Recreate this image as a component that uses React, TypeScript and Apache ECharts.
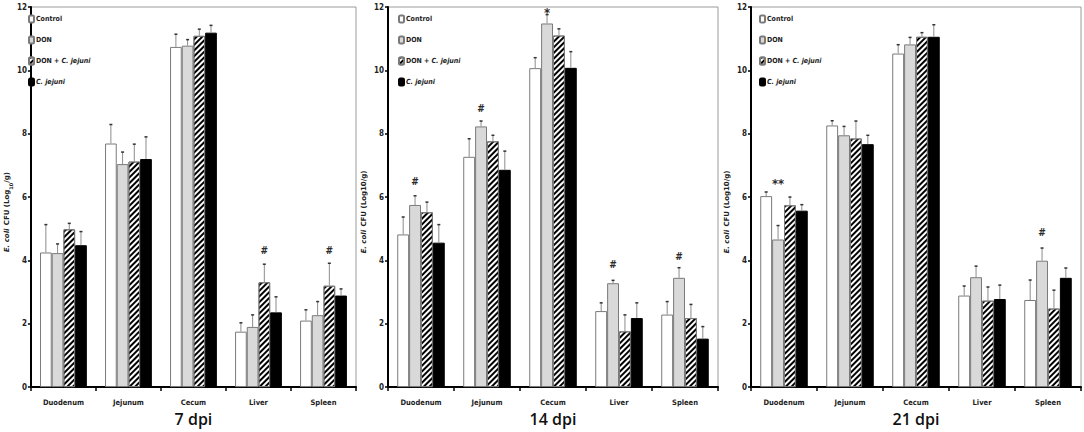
import React, { useEffect, useRef } from "react";
import * as echarts from "echarts";

const CATEGORIES = ["Duodenum", "Jejunum", "Cecum", "Liver", "Spleen"];
const GROUPS = ["Control", "DON", "DON + C. jejuni", "C. jejuni"];
const PANEL_TITLES = ["7 dpi", "14 dpi", "21 dpi"];
const Y_MIN = 0;
const Y_MAX = 12;
const Y_INTERVAL = 2;

// 7 dpi
const D7_CONTROL = [4.25, 7.69, 10.74, 1.75, 2.1];
const D7_DON = [4.23, 7.04, 10.78, 1.9, 2.27];
const D7_DON_CJ = [4.98, 7.12, 11.09, 3.31, 3.2];
const D7_CJ = [4.48, 7.2, 11.19, 2.36, 2.89];
const D7_CONTROL_ERR = [0.88, 0.6, 0.4, 0.28, 0.34];
const D7_DON_ERR = [0.29, 0.38, 0.19, 0.38, 0.43];
const D7_DON_CJ_ERR = [0.19, 0.55, 0.21, 0.57, 0.71];
const D7_CJ_ERR = [0.43, 0.7, 0.23, 0.49, 0.21];

// 14 dpi
const D14_CONTROL = [4.82, 7.27, 10.07, 2.4, 2.29];
const D14_DON = [5.75, 8.23, 11.48, 3.28, 3.45];
const D14_DON_CJ = [5.52, 7.76, 11.1, 1.76, 2.18];
const D14_CJ = [4.56, 6.86, 10.08, 2.18, 1.53];
const D14_CONTROL_ERR = [0.55, 0.57, 0.33, 0.26, 0.41];
const D14_DON_ERR = [0.29, 0.17, 0.28, 0.09, 0.32];
const D14_DON_CJ_ERR = [0.32, 0.19, 0.21, 0.52, 0.43];
const D14_CJ_ERR = [0.57, 0.59, 0.51, 0.48, 0.38];

// 21 dpi
const D21_CONTROL = [6.03, 8.26, 10.53, 2.89, 2.75];
const D21_DON = [4.66, 7.95, 10.82, 3.47, 3.99];
const D21_DON_CJ = [5.74, 7.85, 11.06, 2.73, 2.48];
const D21_CJ = [5.57, 7.67, 11.06, 2.78, 3.45];
const D21_CONTROL_ERR = [0.13, 0.15, 0.28, 0.3, 0.63];
const D21_DON_ERR = [0.44, 0.28, 0.22, 0.35, 0.4];
const D21_DON_CJ_ERR = [0.26, 0.55, 0.13, 0.43, 0.58];
const D21_CJ_ERR = [0.19, 0.28, 0.38, 0.44, 0.31];

// significance marks: [category index, group index, value level, text]
const ANNOT_7: [number, number, number, string][] = [
  [3, 2, 4.31, "#"],
  [4, 2, 4.31, "#"],
];
const ANNOT_14: [number, number, number, string][] = [
  [0, 1, 6.5, "#"],
  [1, 1, 8.79, "#"],
  [2, 1, 11.83, "*"],
  [3, 1, 3.88, "#"],
  [4, 1, 4.11, "#"],
];
const ANNOT_21: [number, number, number, string][] = [
  [0, 1, 6.44, "**"],
  [4, 1, 4.87, "#"],
];

const MEANS = [
  [D7_CONTROL, D7_DON, D7_DON_CJ, D7_CJ],
  [D14_CONTROL, D14_DON, D14_DON_CJ, D14_CJ],
  [D21_CONTROL, D21_DON, D21_DON_CJ, D21_CJ],
];
const ERRS = [
  [D7_CONTROL_ERR, D7_DON_ERR, D7_DON_CJ_ERR, D7_CJ_ERR],
  [D14_CONTROL_ERR, D14_DON_ERR, D14_DON_CJ_ERR, D14_CJ_ERR],
  [D21_CONTROL_ERR, D21_DON_ERR, D21_DON_CJ_ERR, D21_CJ_ERR],
];
const ANNOTS = [ANNOT_7, ANNOT_14, ANNOT_21];

const NARROW = "'Liberation Sans Narrow', 'DejaVu Sans Condensed', sans-serif";
const GRIDS = [
  { left: 19, width: 337, nameGap: 9, legendLeft: 28 },
  { left: 388, width: 330, nameGap: 13, legendLeft: 398 },
  { left: 751, width: 330, nameGap: 13, legendLeft: 759 },
];
const CAT_GAP = 0.28;

const groupStyle = (g: number) => {
  if (g === 0) return { color: "#ffffff", borderColor: "#7a7a7a", borderWidth: 1 };
  if (g === 1) return { color: "#d9d9d9", borderColor: "#7a7a7a", borderWidth: 1 };
  if (g === 2)
    return {
      color: "#ffffff",
      borderColor: "#7a7a7a",
      borderWidth: 1,
      decal: {
        symbol: "rect",
        symbolSize: 1,
        dashArrayX: [1, 0],
        dashArrayY: [1.3, 1.9],
        rotation: -Math.PI / 4,
        color: "#000000",
        backgroundColor: "#ffffff",
      },
    };
  return { color: "#000000", borderColor: "#000000", borderWidth: 1 };
};

export default function App() {
  const ref = useRef<HTMLDivElement>(null);
  useEffect(() => {
    if (!ref.current) return;
    const chart = echarts.init(ref.current, null, { renderer: "svg" });

    const barOffset = (api: any, g: number) => {
      const band = api.size([1, 0])[0];
      const barW = (band * (1 - CAT_GAP)) / 4;
      return -2 * barW + (g + 0.5) * barW;
    };

    const series: any[] = [];
    for (let p = 0; p < 3; p++) {
      for (let g = 0; g < 4; g++) {
        series.push({
          type: "bar",
          name: GROUPS[g],
          xAxisIndex: p,
          yAxisIndex: p,
          data: MEANS[p][g],
          barGap: "0%",
          barCategoryGap: CAT_GAP * 100 + "%",
          itemStyle: groupStyle(g),
          z: 2,
        });
      }
      const errData: number[][] = [];
      for (let g = 0; g < 4; g++) {
        for (let c = 0; c < CATEGORIES.length; c++) {
          errData.push([c, g, MEANS[p][g][c], ERRS[p][g][c]]);
        }
      }
      series.push({
        type: "custom",
        xAxisIndex: p,
        yAxisIndex: p,
        encode: { x: 0, y: 2 },
        data: errData,
        z: 4,
        silent: true,
        renderItem: (params: any, api: any) => {
          const c = api.value(0);
          const g = api.value(1);
          const m = api.value(2);
          const e = api.value(3);
          const p0 = api.coord([c, m]);
          const p1 = api.coord([c, m + e]);
          const x = p0[0] + barOffset(api, g);
          return {
            type: "group",
            children: [
              {
                type: "line",
                shape: { x1: x, y1: p0[1], x2: x, y2: p1[1] },
                style: { stroke: "#8c8c8c", lineWidth: 1 },
              },
              {
                type: "line",
                shape: { x1: x - 1.5, y1: p1[1], x2: x + 1.5, y2: p1[1] },
                style: { stroke: "#333", lineWidth: 1.5 },
              },
            ],
          };
        },
      });
      const annots = ANNOTS[p];
      series.push({
        type: "custom",
        xAxisIndex: p,
        yAxisIndex: p,
        encode: { x: 0, y: 2 },
        data: annots.map((a) => [a[0], a[1], a[2]]),
        z: 5,
        silent: true,
        renderItem: (params: any, api: any) => {
          const c = api.value(0);
          const g = api.value(1);
          const v = api.value(2);
          const pt = api.coord([c, v]);
          const txt = annots[params.dataIndex][3];
          return {
            type: "text",
            x: pt[0] + barOffset(api, g),
            y: pt[1],
            style: {
              text: txt,
              align: "center",
              verticalAlign: "middle",
              fill: "#2a2a2a",
              fontFamily: NARROW,
              fontWeight: "bold",
              fontSize: txt === "#" ? 10 : 13,
            },
          };
        },
      });
    }

    const yName = (p: number) =>
      p === 0
        ? "{i|E. coli} {n|CFU (Log}{s|10}{n|/g)}"
        : "{i|E. coli} {n|CFU (Log10/g)}";

    const option: any = {
      animation: false,
      backgroundColor: "#ffffff",
      grid: GRIDS.map((g) => ({
        left: g.left,
        width: g.width,
        top: 7,
        height: 384,
        show: true,
        borderColor: "#9a9a9a",
        borderWidth: 1,
        backgroundColor: "transparent",
      })),
      legend: GRIDS.map((g) => ({
        data: GROUPS,
        orient: "vertical",
        left: g.legendLeft,
        top: 14,
        padding: 0,
        itemWidth: 5,
        itemHeight: 7,
        itemGap: 11,
        selectedMode: false,
        formatter: (name: string) =>
          name.indexOf("C. jejuni") >= 0
            ? name.replace("C. jejuni", "{i|C. jejuni}")
            : name,
        textStyle: {
          fontFamily: NARROW,
          fontSize: 7,
          fontWeight: "bold",
          color: "#222",
          lineHeight: 10,
          padding: [0, 0, 0, -3],
          rich: {
            i: {
              fontFamily: NARROW,
              fontSize: 7,
              fontWeight: "bold",
              fontStyle: "italic",
              color: "#222",
            },
          },
        },
      })),
      xAxis: GRIDS.map((g, p) => ({
        type: "category",
        gridIndex: p,
        data: CATEGORIES,
        name: PANEL_TITLES[p],
        nameLocation: "middle",
        nameGap: 20,
        nameTextStyle: {
          fontFamily: "'Open Sans', 'Noto Sans', sans-serif",
          fontSize: 16,
          fontWeight: 600,
          color: "#111",
        },
        axisLine: { lineStyle: { color: "#000", width: 2 } },
        axisTick: { show: true, length: 4, lineStyle: { color: "#000", width: 1.5 } },
        axisLabel: {
          fontFamily: NARROW,
          fontSize: 7.5,
          fontWeight: "bold",
          color: "#222",
          margin: 11,
        },
        splitLine: { show: false },
      })),
      yAxis: GRIDS.map((g, p) => ({
        type: "value",
        gridIndex: p,
        min: Y_MIN,
        max: Y_MAX,
        interval: Y_INTERVAL,
        name: yName(p),
        nameLocation: "middle",
        nameGap: g.nameGap,
        nameTextStyle: {
          padding: [0, 30, 0, 0],
          rich: {
            i: {
              fontFamily: "'DejaVu Sans', sans-serif",
              fontSize: 7,
              fontWeight: "bold",
              fontStyle: "italic",
              color: "#222",
            },
            n: {
              fontFamily: "'DejaVu Sans', sans-serif",
              fontSize: 7,
              fontWeight: "bold",
              color: "#222",
            },
            s: {
              fontFamily: "'DejaVu Sans', sans-serif",
              fontSize: 5,
              fontWeight: "bold",
              color: "#222",
              verticalAlign: "bottom",
            },
          },
        },
        axisLine: { show: true, lineStyle: { color: "#000", width: 2 } },
        axisTick: { show: true, length: 3, lineStyle: { color: "#000", width: 1.5 } },
        axisLabel: {
          fontFamily: NARROW,
          fontSize: 8,
          fontWeight: "bold",
          color: "#222",
          margin: 4,
        },
        splitLine: { show: false },
      })),
      series,
    };
    chart.setOption(option);
    return () => chart.dispose();
  }, []);
  return (
    <div
      ref={ref}
      style={{ position: "fixed", left: 0, top: 0, width: 1084, height: 432, background: "#fff" }}
    />
  );
}
